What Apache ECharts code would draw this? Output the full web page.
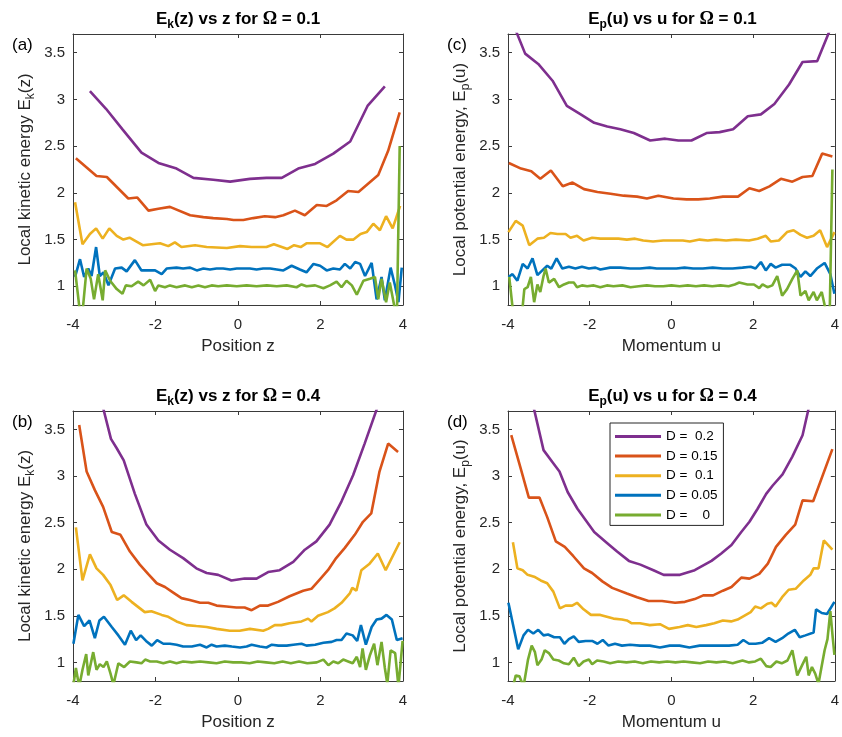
<!DOCTYPE html>
<html><head><meta charset="utf-8">
<script src="https://cdn.jsdelivr.net/npm/echarts@6/dist/echarts.min.js"></script>
<style>html,body{margin:0;padding:0;background:#fff}#c{width:842px;height:737px}</style>
</head><body><div id="c"></div>
<script>
// ---------- names / categories ----------
const seriesNames = ['D =  0.2', 'D = 0.15', 'D =  0.1', 'D = 0.05', 'D =    0'];
const xTickValues = [-4, -2, 0, 2, 4];
const panelLabels = ['(a)', '(c)', '(b)', '(d)'];
const xNames = ['Position z', 'Momentum u', 'Position z', 'Momentum u'];
const omegaValues = ['0.1', '0.1', '0.4', '0.4'];

// ---------- panel (a): E_k(z), Omega = 0.1 ----------
const aD02 = [[-3.59,3.09],[-3.2,2.90],[-2.8,2.68],[-2.34,2.43],[-1.93,2.32],[-1.49,2.26],[-1.08,2.16],[-0.6,2.14],[-0.19,2.12],[0.29,2.15],[0.69,2.16],[1.06,2.16],[1.46,2.26],[1.87,2.31],[2.31,2.42],[2.72,2.55],[3.14,2.93],[3.56,3.14]];
const aD015 = [[-3.93,2.37],[-3.43,2.18],[-3.18,2.17],[-2.66,1.94],[-2.44,1.95],[-2.17,1.81],[-1.93,1.83],[-1.65,1.85],[-1.16,1.76],[-0.84,1.74],[-0.6,1.73],[-0.27,1.72],[-0.11,1.71],[0.13,1.71],[0.37,1.73],[0.65,1.75],[0.9,1.74],[1.1,1.76],[1.38,1.81],[1.62,1.76],[1.91,1.87],[2.15,1.86],[2.39,1.92],[2.67,2.02],[2.92,2.01],[3.16,2.10],[3.40,2.19],[3.64,2.45],[3.92,2.86]];
const aD01 = [[-3.95,1.90],[-3.77,1.45],[-3.59,1.56],[-3.44,1.62],[-3.28,1.51],[-3.12,1.62],[-2.94,1.54],[-2.78,1.50],[-2.63,1.52],[-2.31,1.44],[-1.89,1.46],[-1.69,1.43],[-1.53,1.47],[-1.37,1.42],[-1.04,1.44],[-0.76,1.42],[-0.27,1.41],[0.05,1.43],[0.33,1.42],[0.69,1.42],[0.87,1.45],[1.20,1.40],[1.36,1.44],[1.52,1.42],[1.66,1.46],[1.99,1.46],[2.17,1.42],[2.47,1.54],[2.63,1.50],[2.80,1.50],[2.97,1.56],[3.12,1.58],[3.28,1.67],[3.44,1.60],[3.59,1.75],[3.75,1.62],[3.93,1.86]];
const aD005 = [[-3.95,1.10],[-3.83,1.29],[-3.73,1.10],[-3.63,1.19],[-3.55,1.11],[-3.44,1.42],[-3.35,1.11],[-3.26,1.15],[-3.14,1.01],[-2.98,1.19],[-2.82,1.20],[-2.70,1.16],[-2.50,1.28],[-2.34,1.17],[-2.17,1.17],[-2.01,1.17],[-1.85,1.13],[-1.73,1.19],[-1.49,1.20],[-1.33,1.19],[-1.16,1.20],[-1.0,1.17],[-0.84,1.19],[-0.68,1.18],[-0.52,1.19],[-0.36,1.19],[-0.19,1.18],[-0.03,1.19],[0.13,1.19],[0.29,1.19],[0.45,1.18],[0.61,1.19],[0.78,1.19],[0.94,1.18],[1.10,1.17],[1.30,1.22],[1.50,1.18],[1.66,1.15],[1.83,1.24],[1.99,1.22],[2.15,1.17],[2.31,1.19],[2.47,1.18],[2.59,1.24],[2.72,1.19],[2.84,1.26],[2.96,1.24],[3.08,1.11],[3.24,1.25],[3.36,0.86],[3.48,1.10],[3.56,0.85],[3.70,1.20],[3.81,1.0],[3.89,0.83],[3.97,1.20]];
const aD0 = [[-3.95,1.17],[-3.83,0.72],[-3.77,0.72],[-3.67,1.19],[-3.57,1.08],[-3.49,0.86],[-3.39,1.13],[-3.28,0.85],[-3.22,1.17],[-3.10,1.06],[-2.94,0.97],[-2.80,0.92],[-2.72,1.01],[-2.58,1.0],[-2.42,1.05],[-2.29,1.01],[-2.13,1.07],[-2.01,0.95],[-1.93,1.01],[-1.77,0.99],[-1.65,1.01],[-1.49,0.99],[-1.28,1.01],[-1.12,0.99],[-0.96,1.01],[-0.80,0.99],[-0.64,1.01],[-0.48,1.0],[-0.27,1.01],[-0.03,1.0],[0.21,1.01],[0.45,1.0],[0.70,1.01],[0.94,1.0],[1.18,1.01],[1.42,0.99],[1.54,1.02],[1.66,1.0],[1.87,1.01],[2.07,0.98],[2.23,1.01],[2.39,1.05],[2.51,0.99],[2.63,1.06],[2.76,1.01],[2.88,0.91],[3.04,1.06],[3.20,1.08],[3.32,1.10],[3.40,0.86],[3.48,1.08],[3.59,0.83],[3.68,1.04],[3.81,0.74],[3.85,0.6],[3.92,2.5]];

// ---------- panel (c): E_p(u), Omega = 0.1 ----------
const cD02 = [[-3.96,3.90],[-3.58,3.49],[-3.26,3.38],[-2.91,3.20],[-2.56,2.93],[-2.22,2.84],[-1.89,2.75],[-1.57,2.71],[-1.25,2.68],[-0.92,2.64],[-0.52,2.56],[-0.15,2.58],[0.17,2.56],[0.49,2.56],[0.86,2.64],[1.18,2.65],[1.51,2.68],[1.87,2.82],[2.19,2.84],[2.52,2.95],[2.88,3.16],[3.21,3.40],[3.57,3.41],[3.98,3.85]];
const cD015 = [[-3.98,2.32],[-3.68,2.26],[-3.43,2.23],[-3.21,2.15],[-2.95,2.24],[-2.66,2.07],[-2.42,2.11],[-2.14,2.04],[-1.81,2.01],[-1.49,1.99],[-1.17,1.97],[-0.84,1.96],[-0.6,1.94],[-0.32,1.97],[0.05,1.94],[0.37,1.93],[0.66,1.93],[0.94,1.94],[1.26,1.96],[1.63,1.96],[1.91,2.05],[2.15,2.02],[2.40,2.07],[2.68,2.15],[2.96,2.12],[3.21,2.17],[3.45,2.18],[3.69,2.42],[3.94,2.39]];
const cD01 = [[-3.99,1.58],[-3.81,1.70],[-3.64,1.65],[-3.48,1.44],[-3.28,1.51],[-3.12,1.52],[-2.96,1.57],[-2.79,1.56],[-2.59,1.56],[-2.47,1.52],[-2.31,1.54],[-2.15,1.49],[-1.94,1.52],[-1.74,1.51],[-1.50,1.51],[-1.30,1.51],[-1.09,1.50],[-0.89,1.51],[-0.69,1.49],[-0.45,1.48],[-0.20,1.49],[0.04,1.49],[0.28,1.49],[0.45,1.48],[0.69,1.50],[0.89,1.49],[1.09,1.50],[1.34,1.49],[1.58,1.50],[1.90,1.49],[2.11,1.51],[2.31,1.54],[2.43,1.48],[2.63,1.49],[2.83,1.58],[2.99,1.60],[3.16,1.55],[3.32,1.52],[3.48,1.54],[3.64,1.60],[3.81,1.42],[3.99,1.58]];
const cD005 = [[-3.99,1.10],[-3.89,1.13],[-3.77,1.06],[-3.64,1.24],[-3.52,1.19],[-3.40,1.30],[-3.28,1.12],[-3.16,1.17],[-3.04,1.22],[-2.94,1.19],[-2.81,1.30],[-2.67,1.19],[-2.51,1.21],[-2.35,1.19],[-2.19,1.21],[-2.02,1.19],[-1.86,1.20],[-1.74,1.18],[-1.50,1.20],[-1.25,1.20],[-1.01,1.19],[-0.77,1.19],[-0.53,1.20],[-0.36,1.19],[-0.12,1.19],[0.12,1.19],[0.32,1.20],[0.53,1.19],[0.77,1.19],[1.01,1.20],[1.26,1.19],[1.50,1.19],[1.74,1.20],[1.94,1.21],[2.06,1.19],[2.19,1.26],[2.31,1.17],[2.43,1.24],[2.55,1.20],[2.71,1.23],[2.91,1.23],[3.04,1.19],[3.16,1.10],[3.28,1.16],[3.40,1.11],[3.56,1.19],[3.75,1.25],[3.89,1.13],[3.99,0.92]];
const cD0 = [[-3.97,1.10],[-3.87,0.70],[-3.66,0.70],[-3.60,0.97],[-3.52,0.99],[-3.44,1.10],[-3.36,0.83],[-3.28,1.02],[-3.21,0.94],[-3.13,1.11],[-3.08,1.19],[-3.0,1.04],[-2.87,1.08],[-2.75,0.99],[-2.63,1.02],[-2.51,1.04],[-2.39,1.04],[-2.31,0.99],[-2.19,1.01],[-2.06,1.0],[-1.90,1.01],[-1.74,0.99],[-1.58,1.01],[-1.42,1.0],[-1.2,1.01],[-1.0,0.99],[-0.8,1.0],[-0.6,1.01],[-0.4,1.0],[-0.2,1.0],[0.0,1.01],[0.2,1.0],[0.4,1.01],[0.6,1.0],[0.8,1.01],[1.0,1.0],[1.2,1.01],[1.4,1.0],[1.55,1.02],[1.66,1.04],[1.86,1.02],[2.02,1.02],[2.15,0.98],[2.23,1.02],[2.35,0.99],[2.47,1.01],[2.59,1.11],[2.71,0.90],[2.83,0.97],[2.96,1.08],[3.08,1.17],[3.16,0.90],[3.28,0.95],[3.36,0.85],[3.48,0.94],[3.56,0.85],[3.68,0.94],[3.77,0.76],[3.87,0.6],[3.94,2.25]];

// ---------- panel (b): E_k(z), Omega = 0.4 ----------
const bD02 = [[-3.45,4.05],[-3.08,3.40],[-2.94,3.30],[-2.77,3.17],[-2.50,2.81],[-2.22,2.48],[-1.93,2.31],[-1.65,2.21],[-1.33,2.12],[-1.01,2.01],[-0.76,1.96],[-0.48,1.94],[-0.16,1.88],[0.16,1.90],[0.45,1.90],[0.73,1.97],[1.01,1.99],[1.34,2.08],[1.62,2.21],[1.90,2.30],[2.22,2.48],[2.51,2.73],[2.79,3.01],[3.07,3.35],[3.38,3.74]];
const bD015 = [[-3.85,3.55],[-3.67,3.05],[-3.47,2.85],[-3.27,2.67],[-3.06,2.40],[-2.85,2.37],[-2.62,2.19],[-2.38,2.05],[-2.18,1.95],[-1.97,1.85],[-1.77,1.81],[-1.57,1.75],[-1.37,1.69],[-1.17,1.67],[-0.92,1.64],[-0.72,1.64],[-0.52,1.61],[-0.28,1.60],[-0.04,1.59],[0.16,1.59],[0.33,1.56],[0.53,1.61],[0.73,1.61],[0.97,1.65],[1.25,1.71],[1.58,1.77],[1.78,1.79],[1.98,1.89],[2.18,1.99],[2.38,2.12],[2.59,2.23],[2.83,2.37],[3.03,2.51],[3.23,2.60],[3.43,3.05],[3.64,3.35],[3.88,3.26]];
const bD01 = [[-3.93,2.45],[-3.77,1.88],[-3.59,2.16],[-3.43,2.01],[-3.27,1.94],[-3.09,1.83],[-2.93,1.67],[-2.77,1.72],[-2.58,1.65],[-2.26,1.54],[-2.10,1.55],[-1.85,1.51],[-1.69,1.49],[-1.49,1.44],[-1.25,1.40],[-1.01,1.39],[-0.76,1.38],[-0.52,1.36],[-0.20,1.34],[0.04,1.34],[0.29,1.36],[0.61,1.34],[0.73,1.36],[0.89,1.40],[1.05,1.40],[1.25,1.42],[1.54,1.44],[1.70,1.47],[1.78,1.44],[1.94,1.50],[2.18,1.54],[2.34,1.58],[2.51,1.64],[2.71,1.74],[2.77,1.80],[2.87,1.77],[2.99,1.99],[3.19,2.06],[3.39,2.17],[3.58,1.99],[3.92,2.29]];
const bD005 = [[-3.99,1.20],[-3.87,1.51],[-3.73,1.39],[-3.60,1.45],[-3.47,1.26],[-3.36,1.45],[-3.25,1.49],[-3.06,1.38],[-2.90,1.29],[-2.74,1.19],[-2.60,1.34],[-2.47,1.24],[-2.36,1.29],[-2.23,1.23],[-2.09,1.18],[-1.96,1.24],[-1.81,1.20],[-1.65,1.20],[-1.49,1.19],[-1.33,1.17],[-1.12,1.17],[-0.92,1.19],[-0.76,1.16],[-0.64,1.19],[-0.52,1.17],[-0.32,1.18],[-0.15,1.17],[0.05,1.16],[0.21,1.17],[0.33,1.19],[0.53,1.17],[0.69,1.16],[0.82,1.19],[0.98,1.18],[1.18,1.18],[1.34,1.19],[1.54,1.20],[1.66,1.18],[1.87,1.19],[2.07,1.21],[2.27,1.22],[2.39,1.24],[2.51,1.24],[2.63,1.31],[2.78,1.29],[2.89,1.23],[2.98,1.40],[3.10,1.19],[3.24,1.38],[3.36,1.46],[3.48,1.47],[3.60,1.51],[3.73,1.46],[3.85,1.24],[3.99,1.26]];
const bD0 = [[-3.99,0.76],[-3.93,0.94],[-3.85,0.74],[-3.77,0.92],[-3.68,1.09],[-3.63,0.86],[-3.51,1.11],[-3.43,0.92],[-3.35,0.98],[-3.26,0.95],[-3.18,1.01],[-3.09,0.88],[-3.02,0.76],[-2.90,0.99],[-2.76,0.95],[-2.62,1.01],[-2.46,1.0],[-2.34,0.99],[-2.25,1.03],[-2.13,1.01],[-1.97,1.01],[-1.81,0.99],[-1.65,1.01],[-1.49,0.99],[-1.33,1.01],[-1.12,1.0],[-0.92,1.01],[-0.72,1.0],[-0.52,0.99],[-0.32,1.01],[-0.12,1.0],[0.08,1.0],[0.28,0.99],[0.48,1.01],[0.68,1.0],[0.88,0.99],[1.08,1.01],[1.28,0.99],[1.48,1.01],[1.68,0.99],[1.91,1.0],[2.07,1.03],[2.19,0.97],[2.31,1.01],[2.43,0.99],[2.55,1.03],[2.67,1.01],[2.78,0.99],[2.88,1.06],[2.96,0.95],[3.02,1.15],[3.10,0.92],[3.20,1.08],[3.30,1.20],[3.38,0.97],[3.48,1.22],[3.56,0.94],[3.62,0.77],[3.70,1.13],[3.81,1.10],[3.89,0.74],[3.99,1.23]];

// ---------- panel (d): E_p(u), Omega = 0.4 ----------
const dD02 = [[-3.5,3.98],[-3.13,3.28],[-2.91,3.15],[-2.74,3.05],[-2.54,2.83],[-2.30,2.65],[-1.89,2.40],[-1.57,2.28],[-1.33,2.19],[-1.04,2.09],[-0.76,2.05],[-0.44,1.99],[-0.19,1.94],[0.21,1.94],[0.57,1.99],[0.98,2.09],[1.22,2.17],[1.47,2.26],[1.71,2.40],[1.91,2.51],[2.11,2.65],[2.32,2.81],[2.48,2.90],[2.72,3.02],[2.96,3.21],[3.21,3.44],[3.5,4.0]];
const dD015 = [[-3.92,3.44],[-3.70,3.10],[-3.49,2.77],[-3.23,2.77],[-3.04,2.56],[-2.83,2.30],[-2.61,2.24],[-2.40,2.14],[-2.14,2.01],[-1.94,1.96],[-1.69,1.87],[-1.45,1.80],[-1.09,1.74],[-0.84,1.70],[-0.56,1.66],[-0.23,1.66],[0.09,1.64],[0.33,1.65],[0.57,1.68],[0.78,1.72],[1.02,1.72],[1.26,1.77],[1.47,1.81],[1.71,1.91],[1.91,1.90],[2.15,1.95],[2.36,2.06],[2.56,2.24],[2.80,2.37],[3.03,2.48],[3.21,2.74],[3.47,2.73],[3.94,3.29]];
const dD01 = [[-3.88,2.29],[-3.77,2.01],[-3.64,1.99],[-3.52,1.94],[-3.36,1.92],[-3.20,1.88],[-3.04,1.85],[-2.89,1.76],[-2.73,1.58],[-2.59,1.61],[-2.43,1.61],[-2.31,1.64],[-2.15,1.57],[-1.97,1.51],[-1.74,1.51],[-1.58,1.49],[-1.42,1.47],[-1.21,1.46],[-1.09,1.45],[-0.97,1.42],[-0.77,1.42],[-0.53,1.40],[-0.28,1.41],[-0.06,1.36],[0.20,1.38],[0.40,1.40],[0.61,1.38],[0.85,1.40],[1.05,1.42],[1.26,1.45],[1.46,1.44],[1.62,1.46],[1.78,1.50],[1.94,1.54],[2.05,1.60],[2.19,1.58],[2.35,1.63],[2.45,1.64],[2.55,1.60],[2.71,1.70],[2.87,1.78],[3.04,1.79],[3.24,1.88],[3.40,1.94],[3.48,2.01],[3.60,2.01],[3.73,2.31],[3.94,2.21]];
const dD005 = [[-3.99,1.64],[-3.75,1.14],[-3.62,1.29],[-3.51,1.35],[-3.38,1.31],[-3.26,1.35],[-3.13,1.29],[-3.02,1.30],[-2.87,1.27],[-2.73,1.27],[-2.62,1.20],[-2.51,1.25],[-2.39,1.28],[-2.27,1.22],[-2.10,1.23],[-1.94,1.23],[-1.81,1.20],[-1.68,1.24],[-1.54,1.18],[-1.38,1.20],[-1.21,1.18],[-1.01,1.19],[-0.77,1.18],[-0.53,1.18],[-0.28,1.16],[-0.04,1.18],[0.20,1.18],[0.44,1.16],[0.69,1.18],[0.93,1.18],[1.17,1.18],[1.41,1.18],[1.62,1.19],[1.76,1.24],[1.90,1.20],[2.06,1.20],[2.22,1.21],[2.39,1.26],[2.55,1.22],[2.71,1.26],[2.86,1.31],[3.02,1.35],[3.14,1.27],[3.28,1.29],[3.48,1.32],[3.54,1.57],[3.68,1.53],[3.81,1.52],[3.99,1.65]];
const dD0 = [[-3.90,0.70],[-3.81,0.86],[-3.72,0.85],[-3.62,0.74],[-3.51,1.03],[-3.42,1.18],[-3.34,1.11],[-3.28,0.97],[-3.18,1.03],[-3.10,1.13],[-3.00,1.10],[-2.89,1.03],[-2.76,1.02],[-2.63,0.99],[-2.51,0.98],[-2.39,1.05],[-2.27,0.96],[-2.15,1.01],[-2.02,1.03],[-1.94,0.98],[-1.82,1.02],[-1.66,1.01],[-1.5,0.99],[-1.3,1.01],[-1.1,1.0],[-0.9,1.01],[-0.7,0.99],[-0.5,1.01],[-0.3,1.0],[-0.1,1.01],[0.1,1.0],[0.3,1.01],[0.5,1.0],[0.7,0.99],[0.9,1.01],[1.1,1.0],[1.3,1.01],[1.5,0.99],[1.74,1.02],[1.90,1.0],[2.05,1.01],[2.19,1.04],[2.32,0.96],[2.43,0.95],[2.57,1.01],[2.70,0.99],[2.84,1.02],[2.96,1.13],[3.08,0.86],[3.20,0.97],[3.30,1.06],[3.36,0.86],[3.44,0.95],[3.52,0.88],[3.60,0.77],[3.67,0.94],[3.75,1.13],[3.82,1.25],[3.89,1.55],[3.95,1.26],[3.99,1.08]];

// ---------- layout & styles ----------
const colors = ['#7E2F8E', '#D95319', '#EDB120', '#0072BD', '#77AC30'];
const FONT = '"Liberation Sans", Arial, Helvetica, sans-serif';
const AX = '#3a3a3a';
const TXT = '#262626';
const panelData = [
  [aD02, aD015, aD01, aD005, aD0],
  [cD02, cD015, cD01, cD005, cD0],
  [bD02, bD015, bD01, bD005, bD0],
  [dD02, dD015, dD01, dD005, dD0]
];
const grids = [
  {left: 73, top: 34, width: 330, height: 271},
  {left: 508, top: 34, width: 329, height: 271},
  {left: 73, top: 411, width: 330, height: 270},
  {left: 508, top: 411, width: 329, height: 270}
];
const isKinetic = [true, false, true, false];

const subRich = {s: {fontFamily: FONT, fontSize: 12, color: TXT, padding: [11, 0, 0, 0]}};

const xAxes = [], yAxes = [], series = [], graphics = [];
grids.forEach((g, i) => {
  const common = {
    gridIndex: i, type: 'value', splitLine: {show: false},
    axisLine: {show: true, onZero: false, lineStyle: {color: AX, width: 1}},
    axisTick: {show: true, inside: true, length: 4, lineStyle: {color: AX, width: 1}}
  };
  xAxes.push(Object.assign({}, common, {
    position: 'bottom', min: -4, max: 4, interval: 2,
    axisLabel: {show: true, color: TXT, fontSize: 15, fontFamily: FONT, margin: 12},
    name: xNames[i], nameLocation: 'middle', nameGap: 33,
    nameTextStyle: {color: TXT, fontSize: 17, fontFamily: FONT}
  }));
  xAxes.push(Object.assign({}, common, {
    position: 'top', min: -4, max: 4, interval: 2, axisLabel: {show: false}
  }));
  const yName = isKinetic[i] ? 'Local kinetic energy E{s|k}(z)' : 'Local potential energy, E{s|p}(u)';
  yAxes.push(Object.assign({}, common, {
    position: 'left', min: 0.8, max: 3.7,
    axisLabel: {show: true, color: TXT, fontSize: 15, fontFamily: FONT, margin: 8,
                showMinLabel: false, showMaxLabel: false},
    name: yName, nameLocation: 'middle', nameGap: 36,
    nameTextStyle: {color: TXT, fontSize: 17, fontFamily: FONT, rich: subRich}
  }));
  yAxes.push(Object.assign({}, common, {
    position: 'right', min: 0.8, max: 3.7, axisLabel: {show: false}
  }));
  panelData[i].forEach((d, k) => {
    series.push({
      type: 'line', name: seriesNames[k], xAxisIndex: 2 * i, yAxisIndex: 2 * i,
      data: d, symbol: 'none', showSymbol: false, clip: true,
      lineStyle: {width: 2.6, color: colors[k]}, itemStyle: {color: colors[k]},
      emphasis: {disabled: true}
    });
  });
  const cx = g.left + g.width / 2;
  const ty = g.top - 27;
  graphics.push({
    type: 'text', x: cx, y: ty, z: 10,
    style: {
      text: isKinetic[i]
        ? '{n|E}{s|k}{n|(z) vs z for }{o|Ω}{n| = ' + omegaValues[i] + '}'
        : '{n|E}{s|p}{n|(u) vs u for }{o|Ω}{n| = ' + omegaValues[i] + '}',
      align: 'center', verticalAlign: 'top',
      rich: {
        n: {fontFamily: FONT, fontWeight: 'bold', fontSize: 17, color: '#000'},
        s: {fontFamily: FONT, fontWeight: 'bold', fontSize: 12, color: '#000', padding: [12, 0, 0, 0]},
        o: {fontFamily: '"Liberation Serif", "DejaVu Serif", serif', fontWeight: 'bold', fontSize: 18, color: '#000'}
      }
    }
  });
  graphics.push({
    type: 'text', x: (i % 2 === 0) ? 12 : 447, y: g.top + 3, z: 10,
    style: {text: panelLabels[i], fontFamily: FONT, fontSize: 17, fill: '#000', align: 'left', verticalAlign: 'top'}
  });
});

const chart = echarts.init(document.getElementById('c'), null, {renderer: 'canvas'});
chart.setOption({
  animation: false,
  backgroundColor: '#fff',
  grid: grids.map(g => Object.assign({containLabel: false}, g)),
  xAxis: xAxes,
  yAxis: yAxes,
  series: series,
  legend: {
    data: seriesNames, orient: 'vertical', left: 610, top: 423,
    icon: 'rect', itemWidth: 46, itemHeight: 3, itemGap: 4.6,
    padding: [6, 6, 3, 5], borderColor: '#262626', borderWidth: 1, backgroundColor: '#fff',
    textStyle: {fontSize: 13.5, fontFamily: FONT, color: '#000', lineHeight: 15},
    selectedMode: false, z: 20
  },
  graphic: graphics
});
</script>
</body></html>
